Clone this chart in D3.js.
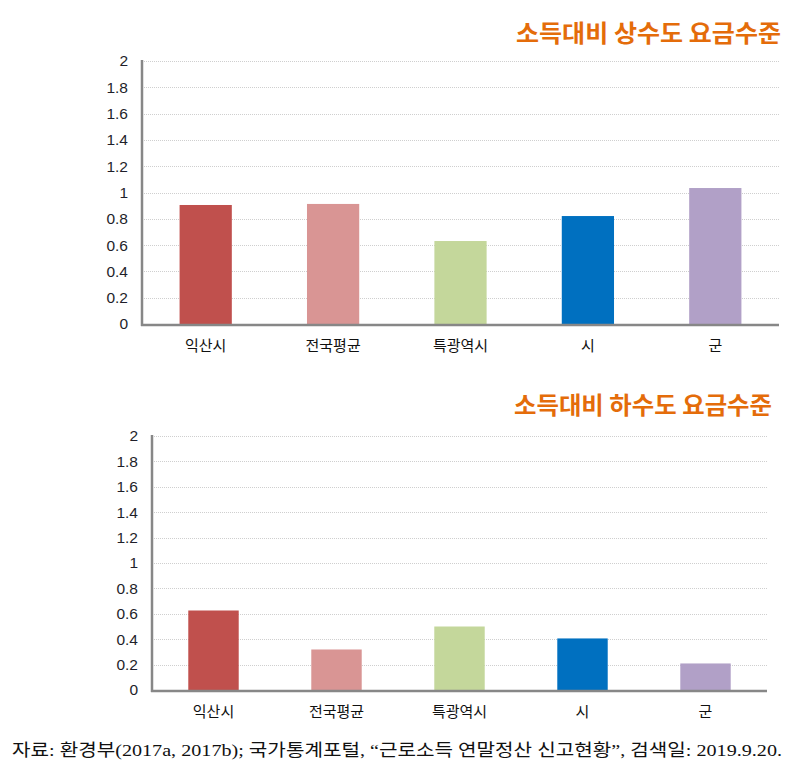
<!DOCTYPE html>
<html><head><meta charset="utf-8">
<script src="https://cdn.jsdelivr.net/npm/d3@7"></script>
<style>body{margin:0;background:#fff}svg{display:block}</style>
</head><body>
<script>
const categories = ["익산시", "전국평균", "특광역시", "시", "군"];
const waterValues = [0.905, 0.913, 0.631, 0.821, 1.034];
const sewerValues = [0.626, 0.319, 0.500, 0.406, 0.209];
const barColors = ["#C0504D", "#D99594", "#C4D79B", "#0070C0", "#B1A0C7"];
const yTicks = [0, 0.2, 0.4, 0.6, 0.8, 1, 1.2, 1.4, 1.6, 1.8, 2];
const titles = ["소득대비 상수도 요금수준", "소득대비 하수도 요금수준"];
const sourceText = "자료: 환경부(2017a, 2017b); 국가통계포털, “근로소득 연말정산 신고현황”, 검색일: 2019.9.20.";

const svg = d3.select("body").append("svg").attr("width", 805).attr("height", 773);

const panels = [
  {values: waterValues, title: titles[0], x0: 142, x1: 779, y0: 324, y1: 61, titleX: 781, titleY: 42, titleW: 265, labelY: 351},
  {values: sewerValues, title: titles[1], x0: 152, x1: 767, y0: 690, y1: 436, titleX: 772, titleY: 414, titleW: 258, labelY: 717}
];

panels.forEach(p => {
  const g = svg.append("g");
  const x = d3.scaleBand().domain(categories).range([p.x0, p.x1]).paddingInner(0.59).paddingOuter(0.295);
  const y = d3.scaleLinear().domain([0, 2]).range([p.y0, p.y1]);

  // gridlines
  g.selectAll(".grid").data(yTicks.filter(t => t > 0)).join("line")
    .attr("x1", p.x0 + 2).attr("x2", p.x1)
    .attr("y1", d => Math.round(y(d)) + 0.5).attr("y2", d => Math.round(y(d)) + 0.5)
    .attr("stroke", "#cfcfcf").attr("stroke-width", 1).attr("stroke-dasharray", "1,1");

  // bars
  g.selectAll(".bar").data(p.values).join("rect")
    .attr("x", (d, i) => x(categories[i]))
    .attr("width", x.bandwidth())
    .attr("y", d => y(d))
    .attr("height", d => y(0) - y(d))
    .attr("fill", (d, i) => barColors[i]);

  // y axis
  const yAxis = d3.axisLeft(y).tickValues(yTicks).tickSize(0).tickPadding(14).tickFormat(d3.format("~g"));
  const ya = g.append("g").attr("transform", `translate(${p.x0},0)`).call(yAxis);
  ya.select(".domain").remove();
  ya.selectAll("text").attr("font-family", "'Liberation Sans', Arial, sans-serif").attr("font-size", 15.5).attr("fill", "#1f1f2a");

  // x axis labels
  const xAxis = d3.axisBottom(x).tickSize(0).tickPadding(0);
  const xa = g.append("g").attr("transform", `translate(0,${p.labelY})`).call(xAxis);
  xa.select(".domain").remove();
  xa.selectAll("text").attr("dy", 0).attr("font-family", "'Noto Sans CJK KR', sans-serif").attr("font-size", 15).attr("fill", "#111");

  // axis lines
  g.append("line").attr("x1", p.x0).attr("x2", p.x0).attr("y1", p.y1 - 1).attr("y2", p.y0 + 2)
    .attr("stroke", "#878787").attr("stroke-width", 2.5);
  g.append("line").attr("x1", p.x0 - 1).attr("x2", p.x1).attr("y1", p.y0 + 1).attr("y2", p.y0 + 1)
    .attr("stroke", "#878787").attr("stroke-width", 2.5);

  // title
  svg.append("text").attr("x", p.titleX - p.titleW).attr("y", p.titleY)
    .attr("font-family", "'Noto Sans CJK KR', sans-serif").attr("font-weight", "bold").attr("font-size", 24)
    .attr("textLength", p.titleW).attr("lengthAdjust", "spacingAndGlyphs")
    .attr("fill", "#E46C0A").text(p.title);
});

svg.append("text").attr("x", 12).attr("y", 756)
  .attr("font-family", "'Liberation Serif', 'Noto Sans CJK KR', serif").attr("font-size", 17.5)
  .attr("fill", "#111").attr("textLength", 770).attr("lengthAdjust", "spacingAndGlyphs")
  .text(sourceText);
</script>
</body></html>
